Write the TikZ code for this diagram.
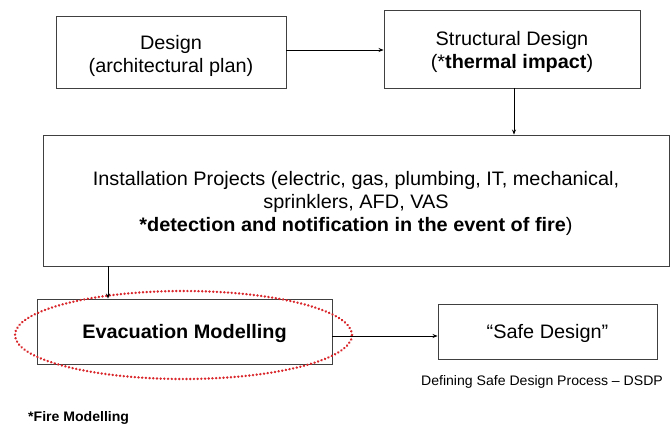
\documentclass[tikz,border=0pt]{standalone}
\usepackage{fontspec}
\setmainfont[FakeStretch=1.02]{Liberation Sans}
\usetikzlibrary{arrows.meta,shapes.geometric}
\definecolor{boxline}{HTML}{404040}
\definecolor{ringred}{HTML}{D8262B}
\begin{document}
\begin{tikzpicture}[x=1pt,y=-1pt,
  procbox/.style={draw=boxline,line width=0.9pt,inner sep=0pt},
  boxtext/.style={align=center,inner sep=0pt,font=\fontsize{19.5}{23}\selectfont},
  flow/.style={draw=black,line width=0.7pt,-{Stealth[length=5pt,width=4pt]}},
  note/.style={font=\fontsize{13.8}{16}\selectfont,inner sep=0pt}]
\useasboundingbox (0,0) rectangle (672,424);
% process boxes
\node[procbox,minimum width=230pt,minimum height=72pt] (design) at (171,52) {};
\node[procbox,minimum width=256pt,minimum height=78pt] (struct) at (512,49) {};
\node[procbox,minimum width=626pt,minimum height=131pt] (install) at (356,200.5) {};
\node[procbox,minimum width=295pt,minimum height=65pt] (evac) at (184.5,331.5) {};
\node[procbox,minimum width=219pt,minimum height=55pt] (safe) at (547.5,331.5) {};
% box captions, set a little below the box centres
\node[boxtext,yshift=-4pt] (designtxt) at (design.center) {Design\\(architectural plan)};
\node[boxtext,yshift=-3pt] (structtxt) at (struct.center) {Structural Design\\(*\textbf{thermal impact})};
\node[boxtext,yshift=-3pt] (installtxt) at (install.center)
  {Installation Projects (electric, gas, plumbing, IT, mechanical,\\sprinklers, AFD, VAS\\\textbf{*detection and notification in the event of fire})};
\node[boxtext,yshift=-2pt,font=\fontsize{19.5}{23}\selectfont\bfseries] (evactxt) at (evac.center) {Evacuation Modelling};
\node[boxtext,yshift=-2pt] (safetxt) at (safe.center) {``Safe Design''};
% highlight ring around the evacuation step
\node[draw=ringred,line width=2.6pt,dash pattern=on 0.1pt off 3.6pt,line cap=round,
  ellipse,minimum width=337pt,minimum height=88pt,inner sep=0pt] (ring) at (183.5,335) {};
% notes
\node[note,anchor=base] (dsdp) at (542,385) {Defining Safe Design Process – DSDP};
\node[note,anchor=base west,font=\fontsize{13.8}{16}\selectfont\bfseries] (fire) at (28,421) {*Fire Modelling};
% connectors
\draw[flow] (design.east |- 0,50) -- (struct.west |- 0,50);
\draw[flow] (struct.south -| 514,0) -- (install.north -| 514,0);
\draw[flow] (install.south -| 108,0) -- (evac.north -| 108,0);
\draw[flow] (evac.east |- 0,336) -- (safe.west |- 0,336);
\end{tikzpicture}
\end{document}
